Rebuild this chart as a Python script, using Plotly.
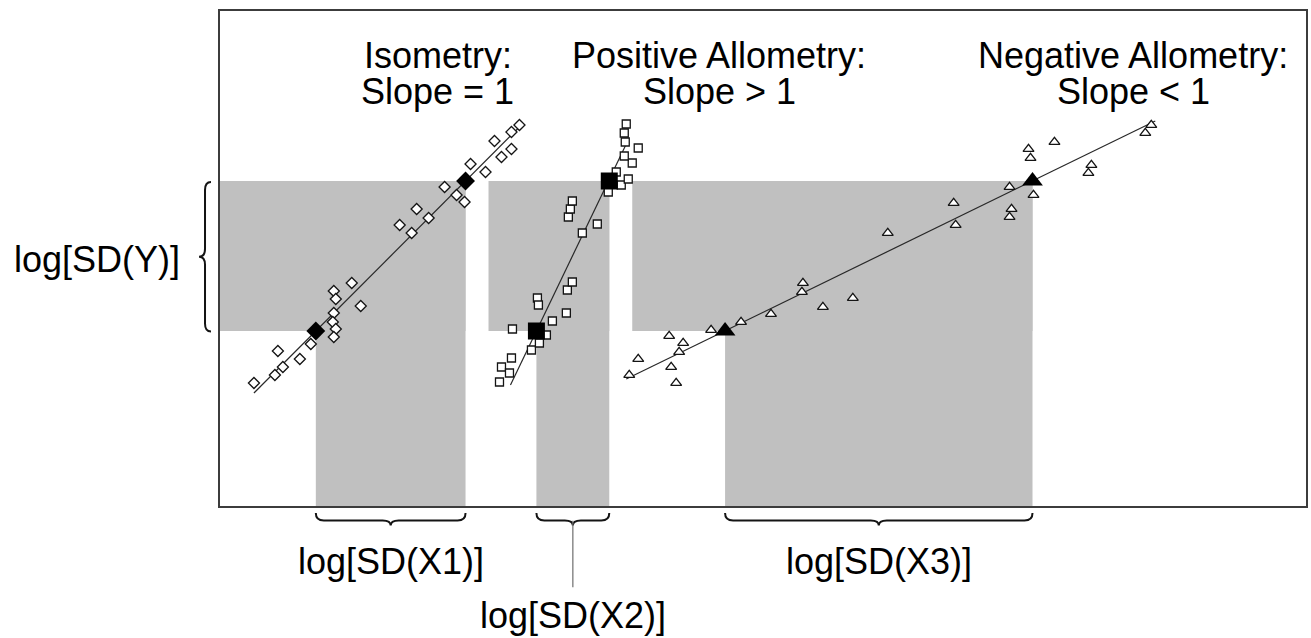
import plotly.graph_objects as go

# ---------------- data (log units, arbitrary) ----------------
# Isometry (open diamonds)
iso_x = [0.34, 0.58, 0.55, 0.63, 0.80, 0.91, 1.14, 1.16, 1.32, 1.41, 1.14, 1.13, 1.16, 1.14,
         1.80, 1.92, 1.97, 2.09, 2.25, 2.37, 2.45, 2.51, 2.66, 2.75, 2.82, 2.92, 2.92, 3.00]
iso_y = [1.23, 1.55, 1.31, 1.39, 1.47, 1.62, 2.15, 2.07, 2.23, 2.00, 1.93, 1.84, 1.77, 1.69,
         2.81, 2.73, 2.97, 2.88, 3.19, 3.11, 3.04, 3.42, 3.34, 3.65, 3.49, 3.57, 3.74, 3.81]
iso_line_x = [0.34, 3.00]
iso_line_y = [1.13, 3.79]

# Positive allometry (open squares)
pos_x = [2.80, 2.82, 2.90, 2.92, 2.93, 3.12, 3.18, 3.19, 3.27, 3.33, 3.47, 3.48, 3.53, 3.63,
         3.49, 3.51, 3.53, 3.78, 3.89, 4.02, 4.09, 3.97, 4.13, 4.05, 4.19, 4.06, 4.05, 4.07, 3.20]
pos_y = [1.24, 1.39, 1.33, 1.48, 1.77, 1.56, 2.08, 2.01, 1.71, 1.85, 1.93, 2.16, 2.24, 2.73,
         2.89, 2.97, 3.05, 2.82, 3.14, 3.21, 3.27, 3.34, 3.43, 3.50, 3.58, 3.64, 3.73, 3.82, 1.63]
pos_line_x = [2.91, 4.07]
pos_line_y = [1.21, 3.62]

# Negative allometry (open triangles)
neg_x = [4.10, 4.19, 4.50, 4.64, 4.60, 4.52, 4.57, 4.92, 5.22, 5.52, 5.84, 5.83, 6.04, 6.34,
         6.69, 7.35, 7.37, 7.91, 7.93, 7.91, 8.15, 8.10, 8.12, 8.36, 8.73, 8.70, 9.27, 9.33]
neg_y = [1.31, 1.47, 1.70, 1.63, 1.54, 1.39, 1.23, 1.76, 1.84, 1.92, 2.23, 2.14, 1.99, 2.08,
         2.73, 3.03, 2.81, 3.19, 2.97, 2.89, 3.11, 3.57, 3.48, 3.64, 3.41, 3.33, 3.73, 3.81]
neg_line_x = [4.07, 9.37]
neg_line_y = [1.27, 3.85]

# Highlighted points where each line meets the SD(Y) band
band_y = [1.75, 3.25]
iso_hi_x = [0.96, 2.46]
pos_hi_x = [3.17, 3.90]
neg_hi_x = [5.06, 8.14]
band_left = [0.0, 2.69, 4.13]      # left end of each horizontal grey band

titles_top = ["Isometry:", "Positive Allometry:", "Negative Allometry:"]
titles_bottom = ["Slope = 1", "Slope > 1", "Slope < 1"]
title_x = [2.18, 5.00, 9.15]
x_labels = ["log[SD(X1)]", "log[SD(X2)]", "log[SD(X3)]"]
y_label = "log[SD(Y)]"

X_RANGE = [0, 10.88]
Y_RANGE = [0, 4.95]

FONT = "Arial, Liberation Sans, Helvetica, sans-serif"
GREY = "rgb(192,192,192)"
INK = "rgb(20,20,20)"

fig = go.Figure()

# regression lines
for lx, ly in [(iso_line_x, iso_line_y), (pos_line_x, pos_line_y), (neg_line_x, neg_line_y)]:
    fig.add_trace(go.Scatter(x=lx, y=ly, mode="lines",
                             line=dict(color="rgb(40,40,40)", width=1.2),
                             hoverinfo="skip", showlegend=False))

# open markers
open_marker = dict(color="white", line=dict(color=INK, width=1.3))
fig.add_trace(go.Scatter(x=iso_x, y=iso_y, mode="markers",
                         marker=dict(symbol="diamond", size=8.5, **open_marker), showlegend=False))
fig.add_trace(go.Scatter(x=pos_x, y=pos_y, mode="markers",
                         marker=dict(symbol="square", size=8, **open_marker), showlegend=False))
fig.add_trace(go.Scatter(x=neg_x, y=neg_y, mode="markers",
                         marker=dict(symbol="triangle-up", size=9.5, **open_marker), showlegend=False))

# filled markers
fig.add_trace(go.Scatter(x=iso_hi_x, y=band_y, mode="markers",
                         marker=dict(symbol="diamond", size=14.5, color="black"), showlegend=False))
fig.add_trace(go.Scatter(x=pos_hi_x, y=band_y, mode="markers",
                         marker=dict(symbol="square", size=17, color="black"), showlegend=False))
fig.add_trace(go.Scatter(x=neg_hi_x, y=band_y, mode="markers",
                         marker=dict(symbol="triangle-up", size=18, color="black"), showlegend=False))

# grey bands (L-shaped for each case)
shapes = []
for left, (x_lo, x_hi) in zip(band_left, [iso_hi_x, pos_hi_x, neg_hi_x]):
    shapes.append(dict(type="rect", xref="x", yref="y", x0=left, x1=x_hi,
                       y0=band_y[0], y1=band_y[1], fillcolor=GREY, line=dict(width=0),
                       layer="below"))
    shapes.append(dict(type="rect", xref="x", yref="y", x0=x_lo, x1=x_hi,
                       y0=Y_RANGE[0], y1=band_y[1], fillcolor=GREY, line=dict(width=0),
                       layer="below"))

# bottom braces (x in data, y in paper)
def under_brace(x0, x1, ytop=-0.0141, ymid=-0.0293, ybot=-0.0394, r=0.08):
    xc = (x0 + x1) / 2
    return (f"M{x0},{ytop} Q{x0},{ymid} {x0 + r},{ymid} L{xc - r},{ymid} "
            f"Q{xc},{ymid} {xc},{ybot} Q{xc},{ymid} {xc + r},{ymid} "
            f"L{x1 - r},{ymid} Q{x1},{ymid} {x1},{ytop}")

for x_lo, x_hi in [iso_hi_x, pos_hi_x, neg_hi_x]:
    shapes.append(dict(type="path", xref="x", yref="paper", path=under_brace(x_lo, x_hi),
                       line=dict(color=INK, width=2)))

# leader line for X2 label
xc2 = (pos_hi_x[0] + pos_hi_x[1]) / 2
shapes.append(dict(type="line", xref="x", yref="paper", x0=xc2, x1=xc2, y0=-0.030, y1=-0.164,
                   line=dict(color="rgb(110,110,110)", width=1.2)))

# left brace (x in paper, y in data)
def left_brace(ytop, ybot, xr=-0.0083, xm=-0.0138, xl=-0.0193, r=0.08):
    yc = (ytop + ybot) / 2
    return (f"M{xr},{ytop} Q{xm},{ytop} {xm},{ytop - r} L{xm},{yc + r} "
            f"Q{xm},{yc} {xl},{yc} Q{xm},{yc} {xm},{yc - r} "
            f"L{xm},{ybot + r} Q{xm},{ybot} {xr},{ybot}")

shapes.append(dict(type="path", xref="paper", yref="y", path=left_brace(3.24, 1.745),
                   line=dict(color=INK, width=2)))

# annotations
annots = []
for tx, t1, t2 in zip(title_x, titles_top, titles_bottom):
    annots.append(dict(x=tx, y=4.51, xref="x", yref="y", text=t1, showarrow=False,
                       xanchor="center", yanchor="middle", font=dict(size=36, color="black", family=FONT)))
    annots.append(dict(x=tx, y=4.15, xref="x", yref="y", text=t2, showarrow=False,
                       xanchor="center", yanchor="middle", font=dict(size=36, color="black", family=FONT)))

label_y = [-0.113, -0.222, -0.113]
for (x_lo, x_hi), lab, ly in zip([iso_hi_x, pos_hi_x, neg_hi_x], x_labels, label_y):
    annots.append(dict(x=(x_lo + x_hi) / 2, y=ly, xref="x", yref="paper", text=lab, showarrow=False,
                       xanchor="center", yanchor="middle", font=dict(size=36, color="black", family=FONT)))

annots.append(dict(x=-0.1135, y=2.47, xref="paper", yref="y", text=y_label, showarrow=False,
                   xanchor="center", yanchor="middle", font=dict(size=36, color="black", family=FONT)))

axis_common = dict(showgrid=False, zeroline=False, showticklabels=False, ticks="",
                   showline=True, linecolor="rgb(60,60,60)", linewidth=1.5, mirror=True,
                   fixedrange=True)

fig.update_layout(
    width=1311, height=638,
    margin=dict(l=220, r=3, t=11, b=132, pad=0),
    paper_bgcolor="white", plot_bgcolor="white",
    xaxis=dict(range=X_RANGE, **axis_common),
    yaxis=dict(range=Y_RANGE, **axis_common),
    shapes=shapes, annotations=annots,
    showlegend=False,
)

fig.write_html("out.html",
               config={"displayModeBar": False},
               post_script="document.body.style.margin='0';document.body.style.overflow='hidden';")
